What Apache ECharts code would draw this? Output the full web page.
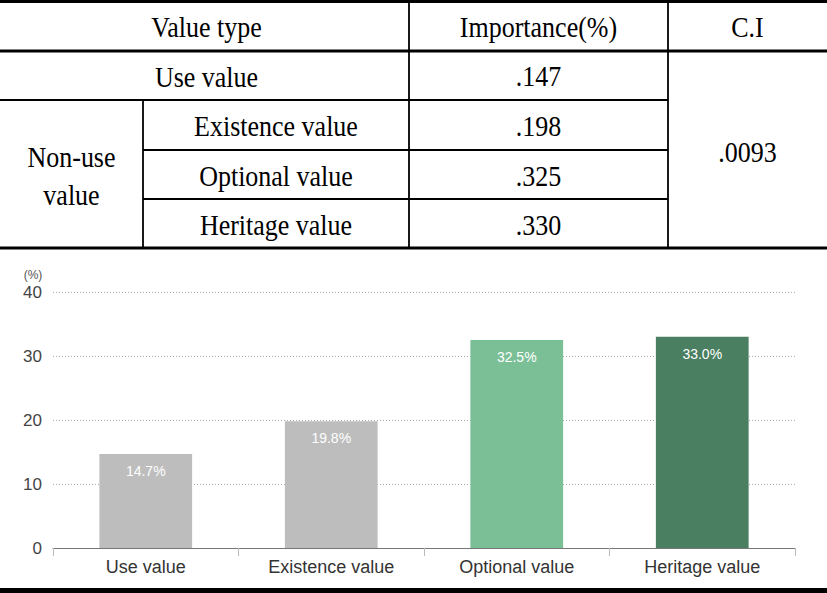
<!DOCTYPE html>
<html><head><meta charset="utf-8">
<script src="https://cdn.jsdelivr.net/npm/echarts@6/dist/echarts.min.js"></script>
<style>html,body{margin:0;padding:0;background:#fff}#c{width:827px;height:593px}</style>
</head><body><div id="c"></div>
<script>
// ---- data ----
const categories = ['Use value', 'Existence value', 'Optional value', 'Heritage value'];
const values = [14.7, 19.8, 32.5, 33.0];
const barColors = ['#bdbdbd', '#bdbdbd', '#7bbf97', '#4a7f62'];
const tableHeader = ['Value type', 'Importance(%)', 'C.I'];
const importance = ['.147', '.198', '.325', '.330'];
const nonUseLabel = 'Non-use\nvalue';
const ciValue = '.0093';
const yTicks = [0, 10, 20, 30, 40];

// ---- table geometry ----
const W = 827;
const colX = [0, 143, 409, 668, 827];
const rowY = [0, 50, 100, 150, 199, 248];
const font = '"Liberation Serif", "DejaVu Serif", serif';
const sans = '"Liberation Sans", Arial, sans-serif';
const g = [];
function line(x1, y1, x2, y2, w) {
  g.push({type: 'line', shape: {x1, y1, x2, y2}, style: {stroke: '#000', lineWidth: w}, silent: true});
}
function txt(x, y, t) {
  g.push({type: 'text', x, y, scaleX: 1, scaleY: 1.15,
    style: {text: t, font: '26px ' + font, fill: '#000', align: 'center', verticalAlign: 'middle', lineHeight: 33}, silent: true});
}
line(0, 1.5, W, 1.5, 3);
line(0, rowY[1] + 1, W, rowY[1] + 1, 3);
line(0, rowY[2], colX[3], rowY[2], 1.8);
line(colX[1], rowY[3], colX[3], rowY[3], 1.8);
line(colX[1], rowY[4], colX[3], rowY[4], 1.8);
line(0, rowY[5], W, rowY[5], 3);
line(colX[1], rowY[2], colX[1], rowY[5], 1.8);
line(colX[2], 0, colX[2], rowY[5], 1.8);
line(colX[3], 0, colX[3], rowY[5], 1.8);
const mid = (a, b) => (a + b) / 2;
txt(mid(colX[0], colX[2]) + 2, mid(rowY[0], rowY[1]) + 2, tableHeader[0]);
txt(mid(colX[2], colX[3]), mid(rowY[0], rowY[1]) + 2, tableHeader[1]);
txt(mid(colX[3], colX[4]), mid(rowY[0], rowY[1]) + 2, tableHeader[2]);
txt(mid(colX[0], colX[2]) + 2, mid(rowY[1], rowY[2]) + 2, categories[0]);
for (let i = 1; i < 4; i++) txt(mid(colX[1], colX[2]), mid(rowY[i + 1], rowY[i + 2]) + 1, categories[i]);
txt(mid(colX[0], colX[1]), mid(rowY[2], rowY[5]) + 2, nonUseLabel);
for (let i = 0; i < 4; i++) txt(mid(colX[2], colX[3]), mid(rowY[i + 1], rowY[i + 2]) + 1, importance[i]);
txt(mid(colX[3], colX[4]), mid(rowY[1], rowY[5]) + 3, ciValue);
// bottom border bar
g.push({type: 'rect', shape: {x: 0, y: 588, width: W, height: 5}, style: {fill: '#000'}, silent: true});
// unit label
g.push({type: 'text', x: 33, y: 275, style: {text: '(%)', font: '12px ' + sans, fill: '#555', align: 'center', verticalAlign: 'middle'}, silent: true});

const chart = echarts.init(document.getElementById('c'), null, {renderer: 'svg'});
chart.setOption({
  animation: false,
  grid: {left: 53, right: 32, top: 292, bottom: 45, containLabel: false},
  xAxis: {
    type: 'category', data: categories,
    axisLine: {lineStyle: {color: '#777', width: 1}},
    axisTick: {show: true, alignWithLabel: false, length: 8, inside: false, lineStyle: {color: '#bbb'}},
    axisLabel: {color: '#333', fontSize: 18, margin: 10, fontFamily: sans}
  },
  yAxis: {
    type: 'value', min: 0, max: 40, interval: 10,
    axisLine: {show: false}, axisTick: {show: false},
    axisLabel: {color: '#444', fontSize: 17, margin: 11, fontFamily: sans},
    splitLine: {lineStyle: {color: '#aaa', type: [1, 2], width: 1}}
  },
  series: [{
    type: 'bar', barWidth: '50%',
    data: values.map((v, i) => ({value: v, itemStyle: {color: barColors[i]}})),
    label: {show: true, position: 'insideTop', distance: 10, color: '#fff', fontSize: 14,
      fontFamily: sans,
      formatter: p => p.value.toFixed(1) + '%'}
  }],
  graphic: g
});
</script></body></html>
